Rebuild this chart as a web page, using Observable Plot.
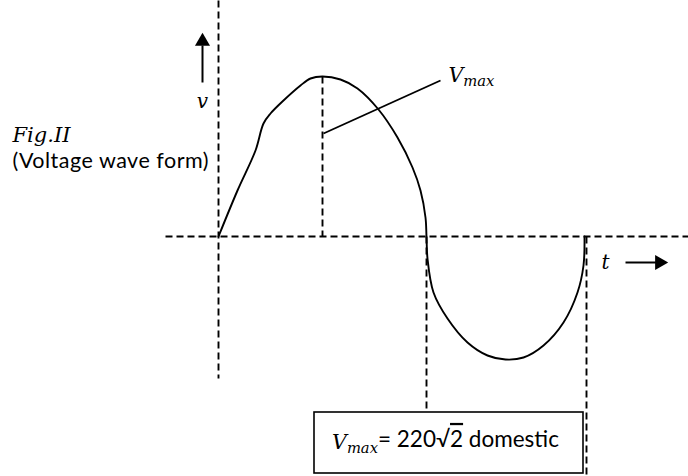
<!DOCTYPE html>
<html><head><meta charset="utf-8">
<script src="https://cdn.jsdelivr.net/npm/d3@7"></script>
<script src="https://cdn.jsdelivr.net/npm/@observablehq/plot@0.6"></script>
<style>body{margin:0;background:#fff} #chart svg{display:block}</style>
</head><body><div id="chart"></div>
<script>
// Hand-drawn voltage wave: t (time, arbitrary units), v (voltage, arbitrary units)
const waveT = [0, 19, 37, 45, 52, 65, 82, 92, 104, 122, 139, 160, 179, 194, 202, 207, 208, 209, 215, 229, 249, 269, 287, 305, 325, 345, 359, 365, 366];
const waveV = [0, 46, 86, 113, 123, 136, 151, 158, 160, 157, 148, 127, 99, 69, 46, 19, 0, -22, -56, -82, -106, -119, -123, -121, -109, -86, -56, -29, 0];

// dashed guide segments: [t1, v1, t2, v2]
const guideT1 = [-53, 0, 104, 208, 368];
const guideV1 = [0, 236, 160, 0, 0];
const guideT2 = [470, 0, 104, 208, 368];
const guideV2 = [0, -142, 0, -176, -240];

// leader from the peak drop line to the V_max label
const leaderT = [105, 222];
const leaderV = [103, 156];

// arrows: v-axis direction and t-axis direction
const vArrowT = -16, vArrowV = [154, 191], vHeadV = 195;
const tArrowV = -26, tArrowT = [407, 438], tHeadT = 441;

// caption box
const boxT = [96, 365];
const boxV = [-237, -176];

// labels
const labelText = ["Fig.II", "(Voltage wave form)", "v", "Vmax", "t", "VmaxBOX"];
const labelT = [-206, -206, -16, 230, 387, 227];
const labelV = [101, 75, 135, 161, -26, -206];

const wave = waveT.map((t, i) => ({t, v: waveV[i]}));
const guides = guideT1.map((t, i) => ({t1: t, v1: guideV1[i], t2: guideT2[i], v2: guideV2[i]}));
const labels = labelText.map((s, i) => ({s, t: labelT[i], v: labelV[i]}));

const serif = "DejaVu Serif";
const sans = "Lato";

const chart = Plot.plot({
  width: 688, height: 476,
  margin: 0,
  x: {domain: [-218, 470], axis: null},
  y: {domain: [-240, 236], axis: null},
  style: {background: "white"},
  marks: [
    Plot.link(guides, {x1: "t1", y1: "v1", x2: "t2", y2: "v2", stroke: "black", strokeWidth: 1.9, strokeDasharray: "7,4"}),
    Plot.line(wave, {x: "t", y: "v", curve: "catmull-rom", stroke: "black", strokeWidth: 1.9}),
    Plot.link([0], {x1: () => leaderT[0], y1: () => leaderV[0], x2: () => leaderT[1], y2: () => leaderV[1], stroke: "black", strokeWidth: 1.9}),
    Plot.link([0], {x1: () => vArrowT, y1: () => vArrowV[0], x2: () => vArrowT, y2: () => vArrowV[1], stroke: "black", strokeWidth: 2}),
    Plot.dot([0], {x: () => vArrowT, y: () => vHeadV, symbol: "triangle", r: 5.6, fill: "black", stroke: null}),
    Plot.link([0], {x1: () => tArrowT[0], y1: () => tArrowV, x2: () => tArrowT[1], y2: () => tArrowV, stroke: "black", strokeWidth: 2}),
    Plot.dot([0], {x: () => tHeadT, y: () => tArrowV, symbol: "triangle", rotate: 90, r: 5.6, fill: "black", stroke: null}),
    Plot.rect([0], {x1: () => boxT[0], x2: () => boxT[1], y1: () => boxV[0], y2: () => boxV[1], fill: "white", stroke: "black", strokeWidth: 1.6}),
    Plot.text(labels.filter(d => d.s === "Fig.II"), {x: "t", y: "v", text: "s", textAnchor: "start", fontFamily: serif, fontStyle: "italic", fontSize: 21, fill: "black"}),
    Plot.text(labels.filter(d => d.s.startsWith("(")), {x: "t", y: "v", text: "s", textAnchor: "start", fontFamily: sans, fontSize: 21.5, fill: "black"}),
    Plot.text(labels.filter(d => d.s === "v" || d.s === "t"), {x: "t", y: "v", text: "s", textAnchor: "middle", fontFamily: serif, fontStyle: "italic", fontSize: 20, fill: "black"}),
    Plot.text(labels.filter(d => d.s === "Vmax"), {x: "t", y: "v", text: "s", textAnchor: "start", fontFamily: serif, fontStyle: "italic", fontSize: 20.5, fill: "black"}),
    Plot.text(labels.filter(d => d.s === "VmaxBOX"), {x: "t", y: "v", text: "s", textAnchor: "middle", fontFamily: serif, fontStyle: "italic", fontSize: 20.5, fill: "black"})
  ]
});

// typeset the V_max subscripts and the square-root overline as real text
const NS = "http://www.w3.org/2000/svg";
function ts(parent, txt, attrs) {
  const t = document.createElementNS(NS, "tspan");
  for (const k in attrs) t.setAttribute(k, attrs[k]);
  t.textContent = txt;
  parent.appendChild(t);
  return t;
}
chart.querySelectorAll("text").forEach(el => {
  const s = el.textContent;
  if (s.startsWith("(Voltage")) el.setAttribute("letter-spacing", "0.5");
  if (s === "Vmax" || s === "VmaxBOX") {
    while (el.firstChild) el.removeChild(el.firstChild);
    ts(el, "V", {});
    ts(el, "max", {"font-size": "0.72em", dy: "0.28em"});
    if (s === "VmaxBOX") {
      ts(el, "= 220√", {dy: "-0.28em", "font-family": sans, "font-style": "normal", "font-size": "22.5px"});
      ts(el, "2", {"font-family": sans, "font-style": "normal", "font-size": "22.5px", "text-decoration": "overline"});
      ts(el, " domestic", {"font-family": sans, "font-style": "normal", "font-size": "22.5px"});
    }
  }
});

document.getElementById("chart").appendChild(chart);
</script>
</body></html>
